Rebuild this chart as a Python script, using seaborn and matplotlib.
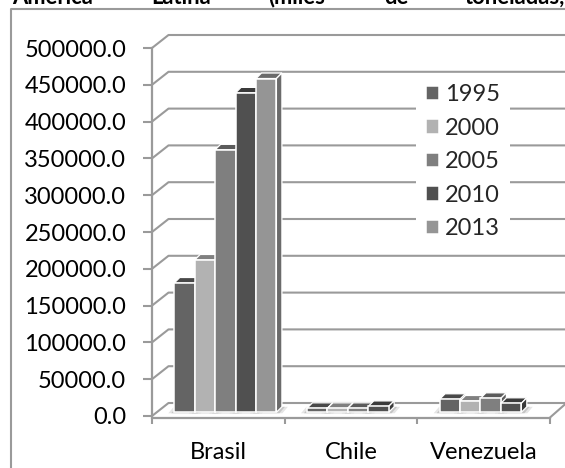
import matplotlib
matplotlib.use("Agg")
import matplotlib.pyplot as plt
import matplotlib.transforms as mtransforms
from matplotlib.colors import to_rgb
from matplotlib.lines import Line2D
from matplotlib.patches import Polygon
import pandas as pd
import seaborn as sns

countries = ["Brasil", "Chile", "Venezuela"]
years = ["1995", "2000", "2005", "2010", "2013"]
brasil = [175700, 207000, 356600, 434000, 453500]
chile = [5400, 5400, 5400, 8000, None]
venezuela = [17700, 15400, 19000, 12200, None]
greys = ["#646464", "#b2b2b2", "#7f7f7f", "#505050", "#959595"]
y_ticks = list(range(0, 500001, 50000))
title_words = ["América", "Latina", "(miles", "de", "toneladas,"]
title_left_px = [12, 151, 268, 384, 465]

W, H, DPI = 565, 468, 100
LINE = "#9a9a9a"

sns.set_theme(style="white")
plt.rcParams["font.family"] = ["Lato", "DejaVu Sans"]
TEXT_SIZE = 17

rows = []
for country, values in zip(countries, [brasil, chile, venezuela]):
    for year, value in zip(years, values):
        rows.append({"country": country, "year": year, "value": value})
df = pd.DataFrame(rows).dropna()

fig = plt.figure(figsize=(W / DPI, H / DPI), dpi=DPI)
# axes rectangle: front plane of the pseudo-3D box
ax = fig.add_axes([152 / W, (H - 416) / H, 398 / W, 368 / H])

sns.barplot(
    data=df, x="country", y="value", hue="year", order=countries, hue_order=years,
    palette=greys, width=0.77, gap=0, edgecolor="white", linewidth=1.1,
    saturation=1, ax=ax, err_kws={"linewidth": 0},
)
ax.set_xlim(-0.5, 2.5)
ax.set_ylim(0, 500000)
ax.set_xlabel("")
ax.set_ylabel("")

# Pixel depths of the box and of the bars standing in the middle of it
BOX_DX, BOX_DY = 16.5, 13
BAR_SHIFT_X, BAR_SHIFT_Y = 7, 3.7
BAR_DX, BAR_DY = 5.5, 5.5
identity = mtransforms.IdentityTransform()
fig.canvas.draw()


def to_px(x, y):
    return ax.transData.transform((x, y))


# Walls: a receding stub and a back line per gridline
for tick in y_ticks:
    x0, y0 = to_px(-0.5, tick)
    x1, _ = to_px(2.5, tick)
    xs = [x0, x0 + BOX_DX, x1 + BOX_DX]
    ys = [y0, y0 + BOX_DY, y0 + BOX_DY]
    ax.add_line(Line2D(xs, ys, transform=identity, color=LINE, lw=1.5,
                       zorder=1, clip_on=False))
fx, fy = to_px(2.5, 0)
ax.add_line(Line2D([fx, fx + BOX_DX], [fy - 1.5, fy + BOX_DY], transform=identity,
                   color=LINE, lw=1.5, zorder=1, clip_on=False))


def darker(color, k=0.72):
    return tuple(c * k for c in to_rgb(color))


# Every bar gets a top and a side face, and its front moves back into the box
bar_shift = mtransforms.ScaledTranslation(BAR_SHIFT_X / DPI, BAR_SHIFT_Y / DPI,
                                          fig.dpi_scale_trans)
bars = sorted([p for p in ax.patches if p.get_height() > 0], key=lambda p: p.get_x())
for i, bar in enumerate(bars):
    z = 3 + 2 * i
    x0, y0 = to_px(bar.get_x(), 0)
    x1, y1 = to_px(bar.get_x() + bar.get_width(), bar.get_height())
    x0, x1 = x0 + BAR_SHIFT_X, x1 + BAR_SHIFT_X
    y0, y1 = y0 + BAR_SHIFT_Y, y1 + BAR_SHIFT_Y
    shade = darker(bar.get_facecolor())
    top = [(x0, y1), (x1, y1), (x1 + BAR_DX, y1 + BAR_DY), (x0 + BAR_DX, y1 + BAR_DY)]
    side = [(x1, y0), (x1 + BAR_DX, y0 + BAR_DY), (x1 + BAR_DX, y1 + BAR_DY), (x1, y1)]
    for face in (top, side):
        ax.add_patch(Polygon(face, closed=True, transform=identity, facecolor=shade,
                             edgecolor="white", lw=0.9, zorder=z, clip_on=False))
    bar.set_transform(ax.transData + bar_shift)
    bar.set_zorder(z + 1)
    bar.set_clip_on(False)

    # Soft floor shadow below each bar
    for grow, alpha in [(6, 0.10), (3, 0.14)]:
        floor = [(x0 - grow, y0 - 1), (x1 + grow, y0 - 1),
                 (x1 + grow + BAR_DX, y0 + BAR_DY), (x0 + BAR_DX - grow, y0 + BAR_DY)]
        ax.add_patch(Polygon(floor, closed=True, transform=identity, facecolor="black",
                             edgecolor="none", alpha=alpha, zorder=2, clip_on=False))

# Axes lines and ticks
for name in ("top", "right"):
    ax.spines[name].set_visible(False)
for name in ("left", "bottom"):
    ax.spines[name].set_color(LINE)
    ax.spines[name].set_linewidth(1.6)
    ax.spines[name].set_zorder(2.5)
ax.spines["bottom"].set_position(("outward", 1.1))
ax.spines["left"].set_bounds(0, 500000)

ax.set_yticks(y_ticks)
ax.set_yticklabels([f"{t:.1f}" for t in y_ticks])
ax.tick_params(axis="y", left=True, length=6.5, width=1.5, color=LINE, pad=12,
               labelsize=TEXT_SIZE, labelcolor="black")
ax.set_xticks([-0.5, 0.5, 1.5, 2.5])
ax.set_xticklabels([])
ax.set_xticks([0, 1, 2], labels=countries, minor=True)
ax.tick_params(axis="x", which="major", bottom=True, length=4.5, width=1.5, color=LINE)
ax.tick_params(axis="x", which="minor", bottom=False, length=0, pad=17.5,
               labelsize=TEXT_SIZE, labelcolor="black")

sns.move_legend(
    ax, loc="upper left", bbox_to_anchor=(415.5 / W, (H - 74) / H),
    bbox_transform=fig.transFigure, title=None, frameon=True, facecolor="white",
    edgecolor="none", framealpha=1, fancybox=False, fontsize=TEXT_SIZE,
    handlelength=0.55, handleheight=0.55, handletextpad=0.26, labelspacing=0.53,
    borderaxespad=0, borderpad=0.44,
)
ax.get_legend().set_zorder(40)
ax.get_legend().get_frame().set_linewidth(0)

# Outer frame, open at the right and at the bottom of the canvas
fig.add_artist(Line2D([11 / W, 11 / W, 1], [0, (H - 9) / H, (H - 9) / H],
                      color=LINE, lw=1.5))

# Justified heading line, cut by the canvas edge
for word, left in zip(title_words, title_left_px):
    fig.text(left / W, (H - 3.5) / H, word, fontsize=15.8, fontweight="bold",
             ha="left", va="baseline", color="black")

fig.savefig("out.png", dpi=DPI)
